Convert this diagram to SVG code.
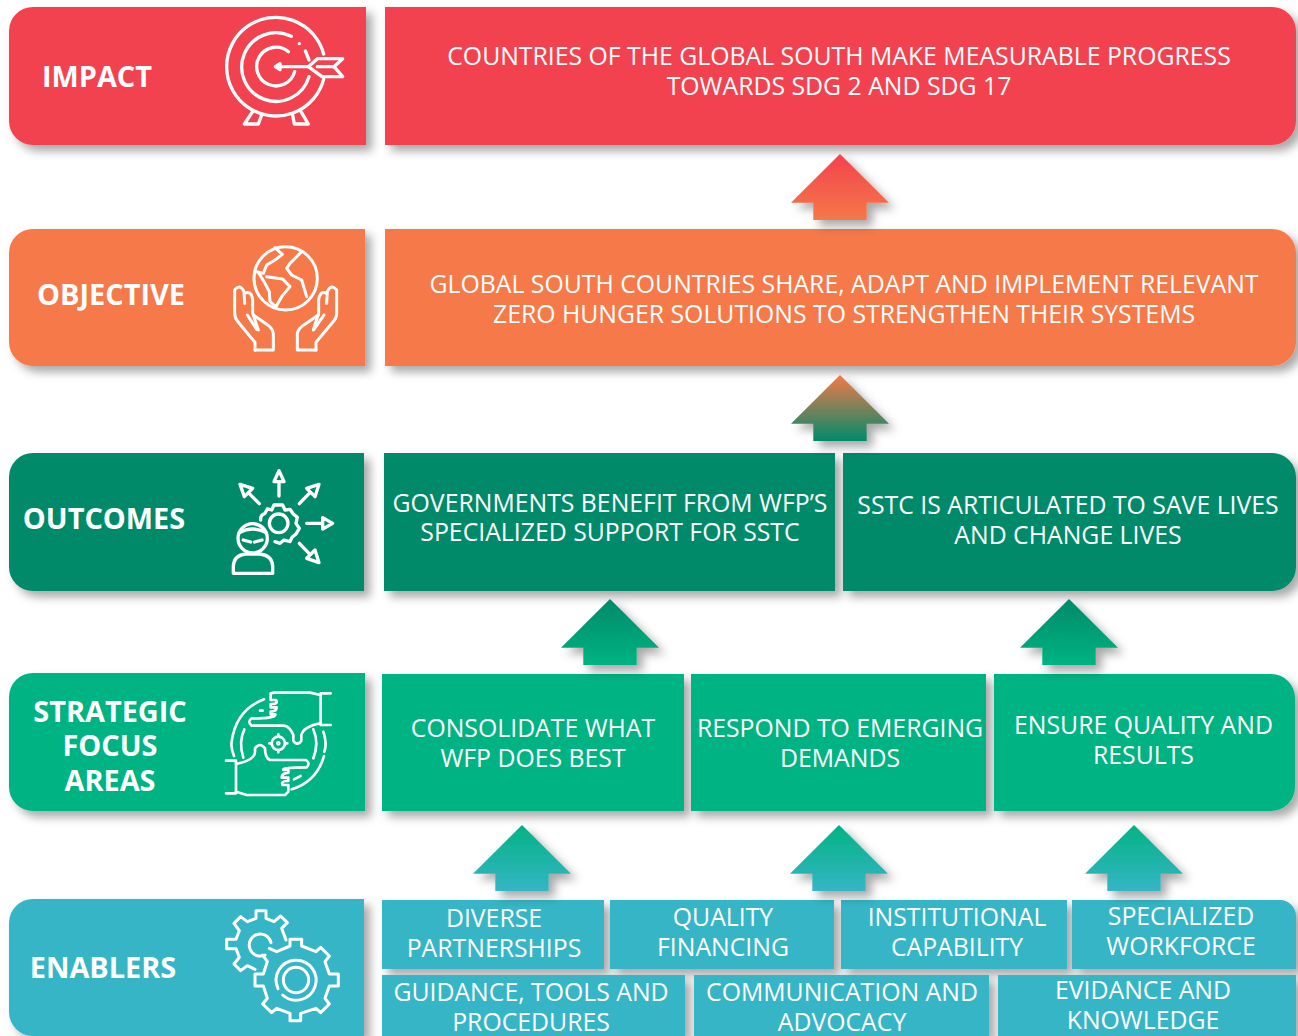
<svg xmlns="http://www.w3.org/2000/svg" width="1298" height="1036" viewBox="0 0 1298 1036">
<style>
text{font-family:"Open Sans","Liberation Sans",sans-serif;fill:#fff;text-anchor:middle}
.t{font-size:24.8px}
.l{font-size:28.9px;font-weight:700}
.i{fill:none;stroke:#fff;stroke-width:10;stroke-linecap:round;stroke-linejoin:round}
.red{fill:#f3424f}.org{fill:#f57948}.dkg{fill:#008a69}.grn{fill:#02b382}.tea{fill:#36b5c6}
</style>
<defs>
<filter id="sh" x="-10%" y="-20%" width="125%" height="145%"><feDropShadow dx="6" dy="6" stdDeviation="5" flood-color="#000" flood-opacity="0.34"/></filter>
<linearGradient id="g1" x1="0" y1="0" x2="0" y2="1"><stop offset="0" stop-color="#f3424f"/><stop offset="1" stop-color="#f57948"/></linearGradient>
<linearGradient id="g2" x1="0" y1="0" x2="0" y2="1"><stop offset="0" stop-color="#f57948"/><stop offset="1" stop-color="#008a69"/></linearGradient>
<linearGradient id="g3" x1="0" y1="0" x2="0" y2="1"><stop offset="0" stop-color="#008a69"/><stop offset="1" stop-color="#02b382"/></linearGradient>
<linearGradient id="g4" x1="0" y1="0" x2="0" y2="1"><stop offset="0" stop-color="#02b382"/><stop offset="1" stop-color="#36b5c6"/></linearGradient>
<path id="arrow" d="M0 0L49 48.7H26.7V66H-26.7V48.7H-49Z"/>
</defs>

<g id="impact" filter="url(#sh)">
<path class="red" d="M366 7V145H33A24 24 0 0 1 9 121V31A24 24 0 0 1 33 7Z"/>
<path class="red" d="M385 7H1272A24 24 0 0 1 1296 31V121A24 24 0 0 1 1272 145H385Z"/>
</g>
<g id="impact-text">
<text class="l" x="97" y="87">IMPACT</text>
<text class="t" x="839" y="65">COUNTRIES OF THE GLOBAL SOUTH MAKE MEASURABLE PROGRESS</text>
<text class="t" x="839" y="95">TOWARDS SDG 2 AND SDG 17</text>
<g class="i" transform="translate(200 0) scale(.3333)">
<path d="M371 162A148 148 0 1 0 371 238"/>
<path d="M274 109A103 103 0 1 0 327 230"/>
<path d="M265 155A58 58 0 1 0 284 215"/>
<path d="M298 131V131"/><path d="M316 153L327 180"/>
<path d="M240 200H325"/><path d="M240 191L226 200L240 209Z" fill="#fff"/>
<path d="M325 200L352 176H428L402 200L428 230H366L325 200"/><path d="M352 200H402"/>
<path d="M158 335L133 372H175L185 345"/><path d="M278 345L283 372H325L303 335"/>
</g>
</g>

<g id="objective" filter="url(#sh)">
<path class="org" d="M365 229V366H33A24 24 0 0 1 9 342V253A24 24 0 0 1 33 229Z"/>
<path class="org" d="M385 229H1272A24 24 0 0 1 1296 253V342A24 24 0 0 1 1272 366H385Z"/>
</g>
<g id="objective-text">
<text class="l" x="111" y="305">OBJECTIVE</text>
<text class="t" x="844" y="293">GLOBAL SOUTH COUNTRIES SHARE, ADAPT AND IMPLEMENT RELEVANT</text>
<text class="t" x="844" y="323">ZERO HUNGER SOLUTIONS TO STRENGTHEN THEIR SYSTEMS</text>
<g class="i" transform="translate(210 235) scale(.3333)" style="stroke-width:9">
<circle cx="227" cy="130" r="95"/>
<path d="M195 38L217 58L195 75L170 90L160 115L138 110"/>
<path d="M145 112L165 145L178 170L180 200L198 215L215 185L240 155L218 132L170 125"/>
<path d="M275 50L240 85L230 100L245 120L275 135L290 185"/>
<path d="M135 345V322L85 262Q74 250 74 235V165Q90 145 102 170L104 205"/>
<path d="M104 175Q125 165 128 195V235L145 285"/>
<path d="M112 240L140 283"/>
<path d="M135 345H190V295Q188 280 170 268L130 240"/>
<path d="M318 345V322L368 262Q380 250 380 235V165Q364 145 352 170L350 205"/>
<path d="M350 175Q330 165 326 195V235L310 285"/>
<path d="M342 240L312 283"/>
<path d="M318 345H262V295Q265 280 285 268L325 240"/>
</g>
</g>

<g id="outcomes" filter="url(#sh)">
<path class="dkg" d="M364 453V591H33A24 24 0 0 1 9 567V477A24 24 0 0 1 33 453Z"/>
<rect class="dkg" x="384" y="453" width="451" height="138"/>
<path class="dkg" d="M843 453H1272A24 24 0 0 1 1296 477V567A24 24 0 0 1 1272 591H843Z"/>
</g>
<g id="outcomes-text">
<text class="l" x="104" y="529">OUTCOMES</text>
<text class="t" x="610" y="512">GOVERNMENTS BENEFIT FROM WFP’S</text>
<text class="t" x="610" y="541">SPECIALIZED SUPPORT FOR SSTC</text>
<text class="t" x="1068" y="514">SSTC IS ARTICULATED TO SAVE LIVES</text>
<text class="t" x="1068" y="544">AND CHANGE LIVES</text>
<g class="i" transform="translate(210 460) scale(.3333)">
<circle cx="206" cy="190" r="28"/>
<path d="M152 180Q150 165 165 160L172 147L185 150L192 135H218L225 150L240 148L250 162L262 172L258 190L268 205L258 222L246 232L240 245L222 240L210 250L195 245"/>
<path d="M207 108V65M207 32L192 65H222Z"/>
<path d="M148 131L115 98M90 73L128 85L103 110Z"/>
<path d="M268 131L300 98M327 73L290 85L315 110Z"/>
<path d="M290 190H338M368 190L338 173V207Z"/>
<path d="M268 250L300 283M327 308L290 295L315 270Z"/>
<circle cx="128" cy="235" r="44"/>
<path d="M88 218Q128 196 168 218"/>
<path d="M100 240L122 246M156 240L134 246"/>
<path d="M70 340V318Q72 285 108 282H148Q186 285 188 318V340Z"/>
</g>
</g>

<g id="strategic" filter="url(#sh)">
<path class="grn" d="M365 673V811H33A24 24 0 0 1 9 787V697A24 24 0 0 1 33 673Z"/>
<rect class="grn" x="382" y="674" width="302" height="137"/>
<rect class="grn" x="691" y="674" width="295" height="137"/>
<path class="grn" d="M994 674H1271A24 24 0 0 1 1295 698V787A24 24 0 0 1 1271 811H994Z"/>
</g>
<g id="strategic-text">
<text class="l" x="110" y="722">STRATEGIC</text>
<text class="l" x="110" y="756">FOCUS</text>
<text class="l" x="110" y="791">AREAS</text>
<text class="t" x="533" y="737">CONSOLIDATE WHAT</text>
<text class="t" x="533" y="767">WFP DOES BEST</text>
<text class="t" x="840" y="737">RESPOND TO EMERGING</text>
<text class="t" x="840" y="767">DEMANDS</text>
<text class="t" x="1143.5" y="734">ENSURE QUALITY AND</text>
<text class="t" x="1143.5" y="764">RESULTS</text>
<g class="i" transform="translate(210 680) scale(.3333)" style="stroke-width:8">
<path d="M162 58Q78 90 65 185Q62 205 72 228"/>
<path d="M103 148Q85 185 100 233"/>
<path d="M310 148Q328 190 310 235"/>
<path d="M340 155Q352 190 343 215"/>
<path d="M342 228Q320 305 245 328"/>
<path d="M150 92H158M252 298L272 288"/>
<path d="M362 40H332V135H362"/><path d="M332 45L300 38H192L182 40V60H198Q205 70 190 72H182V82H200Q200 95 182 95V103H196Q200 115 125 115Q110 125 125 137H222Q240 140 250 165V182Q262 200 274 182V165Q280 140 330 130"/>
<path d="M48 242H78V340H48"/><path d="M78 335L110 345H225L235 335V315H218Q212 305 228 303H235V293H215Q215 280 235 278V270H220Q215 262 290 262Q302 250 288 240H180Q165 235 165 205Q150 185 135 205V215Q135 240 78 252"/>
<circle cx="205" cy="190" r="20"/><path d="M205 163V170M205 210V217M178 190H185M225 190H232"/><circle cx="205" cy="190" r="3"/>
</g>
</g>

<g id="enablers" filter="url(#sh)">
<path class="tea" d="M364 899V1036H33A24 24 0 0 1 9 1012V923A24 24 0 0 1 33 899Z"/>
<rect class="tea" x="382" y="900" width="222" height="69"/>
<rect class="tea" x="610" y="900" width="224" height="69"/>
<rect class="tea" x="841" y="900" width="226" height="69"/>
<path class="tea" d="M1072 900H1280A16 16 0 0 1 1296 916V969H1072Z"/>
<rect class="tea" x="382" y="975" width="303" height="61"/>
<rect class="tea" x="694" y="975" width="295" height="61"/>
<path class="tea" d="M998 975H1296V1036H998Z"/>
</g>
<g id="enablers-text">
<text class="l" x="103" y="978">ENABLERS</text>
<text class="t" x="494" y="927">DIVERSE</text>
<text class="t" x="494" y="957">PARTNERSHIPS</text>
<text class="t" x="723" y="926">QUALITY</text>
<text class="t" x="723" y="956">FINANCING</text>
<text class="t" x="957" y="926">INSTITUTIONAL</text>
<text class="t" x="957" y="956">CAPABILITY</text>
<text class="t" x="1181" y="925">SPECIALIZED</text>
<text class="t" x="1181" y="955">WORKFORCE</text>
<text class="t" x="531" y="1001">GUIDANCE, TOOLS AND</text>
<text class="t" x="531" y="1031">PROCEDURES</text>
<text class="t" x="842" y="1001">COMMUNICATION AND</text>
<text class="t" x="842" y="1031">ADVOCACY</text>
<text class="t" x="1143" y="999">EVIDANCE AND</text>
<text class="t" x="1143" y="1029">KNOWLEDGE</text>
<g class="i" transform="translate(210 900) scale(.3333)" style="stroke-width:9">
<path d="M228 120L215 85L232 68L212 48L192 65L168 55V32H138V55L112 65L92 50L72 70L88 92L78 118H50V146H78L88 172L72 192L92 212L112 197L135 208"/>
<path d="M165 165A33 33 0 1 1 183 128"/>
<path d="M178 145L200 155L240 138V118H275V138L318 155L332 142L358 168L345 185L358 222H385V258H358L345 295L358 312L332 338L318 325L272 340V362H240V340L200 325L185 338L158 312L172 295L160 258H135V222H160L172 185L158 165"/>
<circle cx="258" cy="240" r="38"/>
<path d="M204 266A60 60 0 1 1 218 285"/>
</g>
</g>

<g id="connectors" filter="url(#sh)">
<use href="#arrow" fill="url(#g1)" transform="translate(840 154)"/>
<use href="#arrow" fill="url(#g2)" transform="translate(840 375)"/>
<use href="#arrow" fill="url(#g3)" transform="translate(610 599)"/>
<use href="#arrow" fill="url(#g3)" transform="translate(1069 599)"/>
<use href="#arrow" fill="url(#g4)" transform="translate(522 825)"/>
<use href="#arrow" fill="url(#g4)" transform="translate(839 825)"/>
<use href="#arrow" fill="url(#g4)" transform="translate(1134 825)"/>
</g>
</svg>
